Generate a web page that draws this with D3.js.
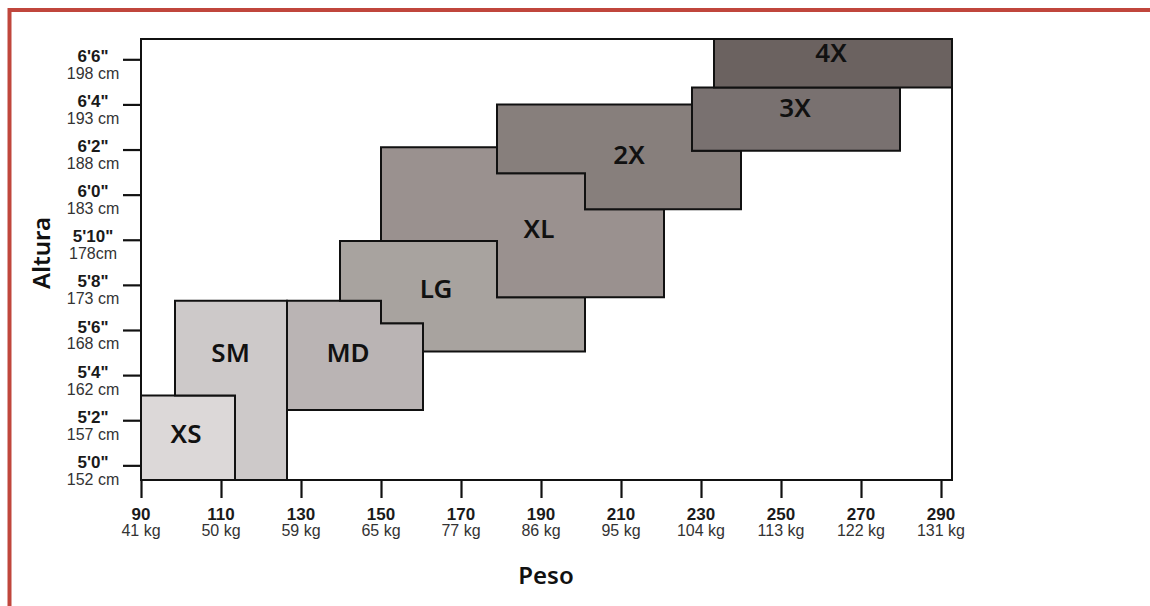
<!DOCTYPE html>
<html>
<head>
<meta charset="utf-8">
<script src="https://cdn.jsdelivr.net/npm/d3@7"></script>
<style>
  html, body { margin: 0; padding: 0; background: #fff; }
  svg { display: block; }
</style>
</head>
<body>
<svg id="chart" width="1150" height="606"></svg>
<script>
// ---- Data (weight in lb, height in inches) ----
const sizeNames = ["XS", "SM", "MD", "LG", "XL", "2X", "3X", "4X"];
const sizeColors = ["#dcd8d8", "#cdc9c9", "#bab4b4", "#a8a39f", "#9a918f", "#877f7c", "#797170", "#6b6260"];

const shapeXS = [[90, 63.1], [113.5, 63.1], [113.5, 59.35], [90, 59.35]];
const shapeSM = [[98.5, 67.3], [126.5, 67.3], [126.5, 59.35], [113.5, 59.35], [113.5, 63.1], [98.5, 63.1]];
const shapeMD = [[126.5, 67.3], [150, 67.3], [150, 66.3], [160.5, 66.3], [160.5, 62.45], [126.5, 62.45]];
const shapeLG = [[139.75, 69.95], [179, 69.95], [179, 67.45], [201, 67.45], [201, 65.05], [160.5, 65.05], [160.5, 66.3], [150, 66.3], [150, 67.3], [139.75, 67.3]];
const shapeXL = [[150, 74.1], [179, 74.1], [179, 72.95], [201, 72.95], [201, 71.35], [220.75, 71.35], [220.75, 67.45], [179, 67.45], [179, 69.95], [150, 69.95]];
const shape2X = [[179, 76.0], [227.75, 76.0], [227.75, 73.95], [240, 73.95], [240, 71.35], [201, 71.35], [201, 72.95], [179, 72.95]];
const shape3X = [[227.75, 76.75], [279.75, 76.75], [279.75, 73.95], [227.75, 73.95]];
const shape4X = [[233.25, 78.9], [292.75, 78.9], [292.75, 76.75], [233.25, 76.75]];
const sizeShapes = [shapeXS, shapeSM, shapeMD, shapeLG, shapeXL, shape2X, shape3X, shape4X];

// label anchor points (weight, height) per size
const labelWeights = [101.25, 112.4, 141.75, 163.75, 189.5, 212, 253.5, 262.5];
const labelHeights = [61.0, 64.58, 64.58, 67.42, 70.07, 73.35, 75.43, 77.87];

// ticks
const weightTicks = [90, 110, 130, 150, 170, 190, 210, 230, 250, 270, 290];
const kgLabels = ["41 kg", "50 kg", "59 kg", "65 kg", "77 kg", "86 kg", "95 kg", "104 kg", "113 kg", "122 kg", "131 kg"];
const heightTicks = [60, 62, 64, 66, 68, 70, 72, 74, 76, 78];
const feetLabels = ["5'0\"", "5'2\"", "5'4\"", "5'6\"", "5'8\"", "5'10\"", "6'0\"", "6'2\"", "6'4\"", "6'6\""];
const cmLabels = ["152 cm", "157 cm", "162 cm", "168 cm", "173 cm", "178cm", "183 cm", "188 cm", "193 cm", "198 cm"];

const xDomain = [90, 292.75];
const yDomain = [59.35, 78.9];

// ---- Layout ----
const plot = { left: 141, top: 39, right: 952, bottom: 480 };
const svg = d3.select("#chart");

// red frame
svg.append("path")
  .attr("d", "M9.5,606 V10 H1150")
  .attr("fill", "none")
  .attr("stroke", "#c0463c")
  .attr("stroke-width", 4);

const x = d3.scaleLinear().domain(xDomain).range([plot.left, plot.right]);
const y = d3.scaleLinear().domain(yDomain).range([plot.bottom, plot.top]);

// shapes
const line = d3.line().x(d => x(d[0])).y(d => y(d[1]));
svg.append("g").selectAll("path")
  .data(sizeShapes)
  .join("path")
  .attr("d", d => line(d) + "Z")
  .attr("fill", (d, i) => sizeColors[i])
  .attr("stroke", "#111")
  .attr("stroke-width", 2)
  .attr("stroke-linejoin", "miter");

// size labels
svg.append("g").selectAll("text")
  .data(sizeNames)
  .join("text")
  .attr("x", (d, i) => x(labelWeights[i]))
  .attr("y", (d, i) => y(labelHeights[i]))
  .attr("text-anchor", "middle")
  .attr("font-family", "'Noto Sans', sans-serif")
  .attr("font-weight", 600)
  .attr("font-size", 26)
  .attr("fill", "#111")
  .text(d => d);

// plot frame
svg.append("rect")
  .attr("x", plot.left).attr("y", plot.top)
  .attr("width", plot.right - plot.left)
  .attr("height", plot.bottom - plot.top)
  .attr("fill", "none")
  .attr("stroke", "#111")
  .attr("stroke-width", 2);

// axes (tick marks only)
const xAxis = svg.append("g")
  .attr("transform", `translate(0,${plot.bottom})`)
  .call(d3.axisBottom(x).tickValues(weightTicks).tickSize(18).tickFormat(""));
const yAxis = svg.append("g")
  .attr("transform", `translate(${plot.left},0)`)
  .call(d3.axisLeft(y).tickValues(heightTicks).tickSize(18).tickFormat(""));
[xAxis, yAxis].forEach(a => {
  a.select(".domain").remove();
  a.selectAll(".tick line").attr("stroke", "#111").attr("stroke-width", 2.2);
});

// x tick labels
const xl = svg.append("g").attr("font-family", "'Liberation Sans', Arial, sans-serif");
xl.selectAll("text.lb")
  .data(weightTicks)
  .join("text")
  .attr("class", "lb")
  .attr("x", d => x(d))
  .attr("y", 519.5)
  .attr("text-anchor", "middle")
  .attr("font-weight", "bold")
  .attr("font-size", 17)
  .attr("fill", "#1a1a1a")
  .text(d => d);
xl.selectAll("text.kg")
  .data(weightTicks)
  .join("text")
  .attr("class", "kg")
  .attr("x", d => x(d))
  .attr("y", 536)
  .attr("text-anchor", "middle")
  .attr("font-size", 16)
  .attr("fill", "#333")
  .text((d, i) => kgLabels[i]);

// y tick labels
const yl = svg.append("g").attr("font-family", "'Liberation Sans', Arial, sans-serif");
yl.selectAll("text.ft")
  .data(heightTicks)
  .join("text")
  .attr("class", "ft")
  .attr("x", 93)
  .attr("y", d => y(d) + 2.6)
  .attr("text-anchor", "middle")
  .attr("font-weight", "bold")
  .attr("font-size", 17)
  .attr("fill", "#1a1a1a")
  .text((d, i) => feetLabels[i]);
yl.selectAll("text.cm")
  .data(heightTicks)
  .join("text")
  .attr("class", "cm")
  .attr("x", 93)
  .attr("y", d => y(d) + 19.5)
  .attr("text-anchor", "middle")
  .attr("font-size", 16)
  .attr("fill", "#333")
  .text((d, i) => cmLabels[i]);

// axis titles
svg.append("text")
  .attr("x", 546).attr("y", 584)
  .attr("text-anchor", "middle")
  .attr("font-family", "'Noto Sans', sans-serif")
  .attr("font-weight", 600)
  .attr("font-size", 24)
  .attr("fill", "#111")
  .text("Peso");
svg.append("text")
  .attr("transform", "translate(50,253) rotate(-90)")
  .attr("text-anchor", "middle")
  .attr("font-family", "'Noto Sans', sans-serif")
  .attr("font-weight", 600)
  .attr("font-size", 24)
  .attr("fill", "#111")
  .text("Altura");
</script>
</body>
</html>
